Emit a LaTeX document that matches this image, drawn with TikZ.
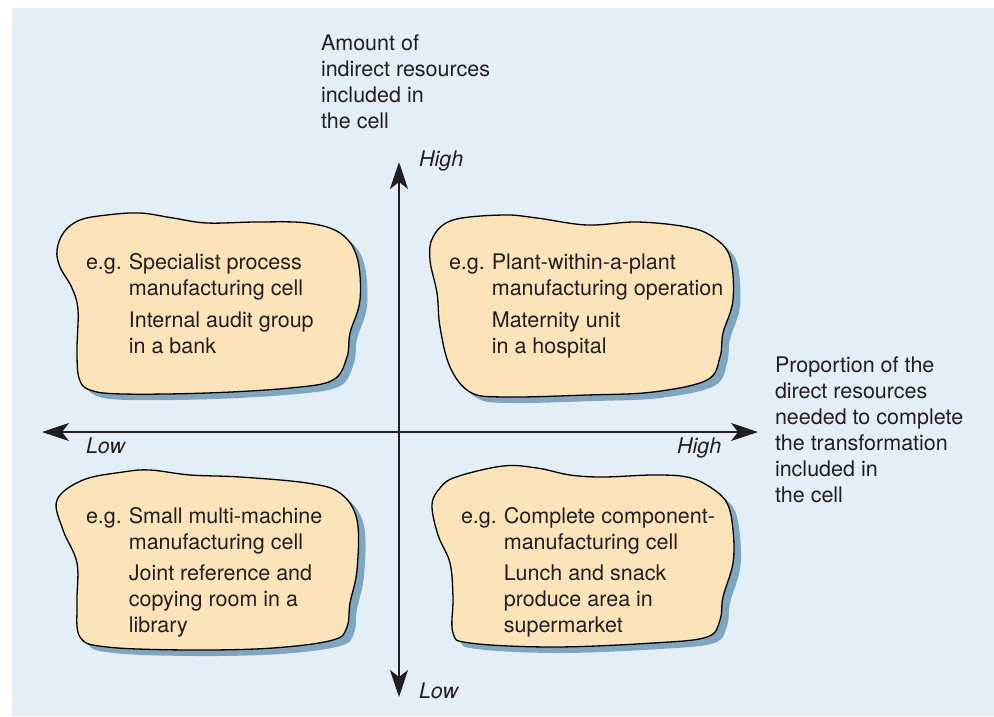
\documentclass[tikz,border=0pt]{standalone}
\usepackage{fontspec}
\setmainfont{TeX Gyre Heros}
\usetikzlibrary{arrows.meta}
\definecolor{bgblue}{HTML}{E3EEF6}
\definecolor{blobfill}{HTML}{FDE3BA}
\definecolor{blobshadow}{HTML}{7FA5BF}
\definecolor{ink}{HTML}{231F20}
\tikzset{
  txt/.style={font=\fontsize{21.5}{26}\selectfont, text=ink, inner sep=0pt, outer sep=0pt, anchor=base west},
  axislabel/.style={txt, font=\fontsize{21.5}{26}\selectfont\itshape},
  blobshape/.style={fill=blobfill, draw=black, line width=1.3pt},
  shadowshape/.style={fill=blobshadow},
  axis/.style={line width=2.4pt, draw=ink, {Stealth[length=27pt,width=18pt,inset=7pt]}-{Stealth[length=27pt,width=18pt,inset=7pt]}}
}
\begin{document}
\begin{tikzpicture}[x=1pt,y=-1pt]
\useasboundingbox (0,0) rectangle (994,716);
\fill[bgblue] (12,8) rectangle (994,716);

% blobs
\def\blobTL{(57,250) (64,232) (80,220) (107,215) (140,213) (173,218) (207,223) (257,222) (307,223) (340,233) (357,257) (360,300) (350,333) (347,357) (333,380) (290,388) (207,393) (123,394) (90,390) (79,378) (77,350) (78,310) (72,288) (60,267)}
\def\blobTR{(433,237) (453,220) (503,215) (537,218) (587,225) (637,222) (687,227) (713,237) (730,257) (733,300) (723,333) (720,357) (707,380) (653,392) (587,395) (503,397) (470,392) (450,367) (440,327) (437,293) (430,260)}
\def\blobBL{(57,500) (83,480) (123,472) (150,470) (190,475) (240,477) (307,483) (340,493) (357,520) (357,570) (350,603) (347,627) (333,640) (273,648) (190,650) (107,647) (80,637) (77,603) (77,563) (63,530)}
\def\blobBR{(432,505) (440,488) (456,477) (503,466) (537,468) (570,475) (603,477) (653,475) (687,477) (710,487) (727,503) (733,530) (733,563) (723,597) (720,620) (707,637) (653,643) (553,647) (470,643) (453,633) (453,597) (450,563) (438,535)}
\foreach \b in {\blobTL,\blobTR,\blobBL,\blobBR}{
  \fill[shadowshape,shift={(7,6)}] plot[smooth cycle,tension=0.6] coordinates {\b};
  \path[blobshape] plot[smooth cycle,tension=0.6] coordinates {\b};
}

% axes
\coordinate (top) at (399,162);
\coordinate (bottom) at (399,697);
\coordinate (left) at (42,432);
\coordinate (right) at (758,432);
\draw[axis] (bottom) -- (top);
\draw[axis] (left) -- (right);

% axis labels
\node[axislabel] (hightop) at (419,166) {High};
\node[axislabel] (lowbottom) at (419,698) {Low};
\node[axislabel] (lowleft) at (86,453) {Low};
\node[axislabel] (highright) at (677,453) {High};

\node[txt] (ytitle) at (321,50) {\begin{tabular}[t]{@{}l@{}}Amount of\\indirect resources\\included in\\the cell\end{tabular}};
\node[txt] (xtitle) at (775,372) {\begin{tabular}[t]{@{}l@{}}Proportion of the\\direct resources\\needed to complete\\the transformation\\included in\\the cell\end{tabular}};

% blob texts
\node[txt] (tl) at (86,269) {\begin{tabular}[t]{@{}l@{\hspace{7pt}}l@{}}e.g. & Specialist process\\ & manufacturing cell\\[6pt] & Internal audit group\\ & in a bank\end{tabular}};
\node[txt] (tr) at (449,269) {\begin{tabular}[t]{@{}l@{\hspace{7pt}}l@{}}e.g. & Plant-within-a-plant\\ & manufacturing operation\\[6pt] & Maternity unit\\ & in a hospital\end{tabular}};
\node[txt] (bl) at (86,523) {\begin{tabular}[t]{@{}l@{\hspace{7pt}}l@{}}e.g. & Small multi-machine\\ & manufacturing cell\\[5pt] & Joint reference and\\ & copying room in a\\ & library\end{tabular}};
\node[txt] (br) at (461,523) {\begin{tabular}[t]{@{}l@{\hspace{7pt}}l@{}}e.g. & Complete component-\\ & manufacturing cell\\[5pt] & Lunch and snack\\ & produce area in\\ & supermarket\end{tabular}};
\end{tikzpicture}
\end{document}
